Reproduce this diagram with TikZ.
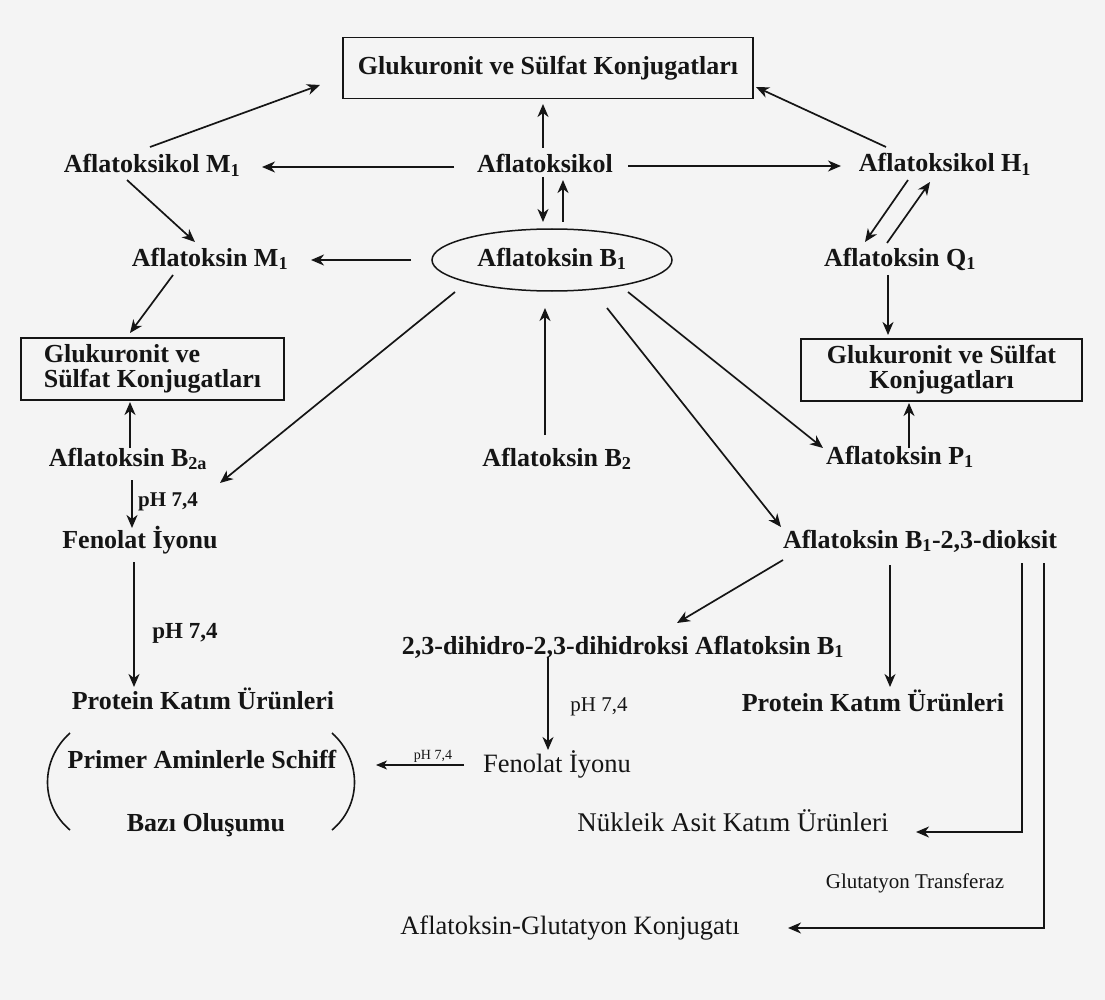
\documentclass[tikz,border=0pt]{standalone}
\usepackage{fontspec}
\setmainfont{Liberation Serif}
\usetikzlibrary{arrows.meta,calc,shapes.geometric}
\definecolor{bg}{HTML}{F4F4F4}
\definecolor{ink}{HTML}{151515}
\begin{document}
\begin{tikzpicture}[x=1pt,y=-1pt,
  lbl/.style={font=\fontsize{26}{30}\selectfont\bfseries, text=ink, inner sep=2pt, text height=17pt, text depth=5pt},
  lblr/.style={font=\fontsize{26.5}{30}\selectfont, text=ink, inner sep=2pt, text height=17pt, text depth=5pt},
  phb/.style={font=\fontsize{21}{24}\selectfont\bfseries, text=ink, inner sep=1pt},
  phr/.style={font=\fontsize{21}{24}\selectfont, text=ink, inner sep=1pt},
  bx/.style={draw=ink, line width=1.5pt, font=\fontsize{26}{25}\selectfont\bfseries, text=ink, inner sep=0pt},
  arr/.style={draw=ink, -{Stealth[length=13pt,width=11pt,inset=4pt]}, line width=1.7pt},
  thin/.style={draw=ink, -{Stealth[length=11pt,width=9pt,inset=3pt]}, line width=1.1pt}
]
\fill[bg] (0,0) rectangle (1105,1000);

% nodes
\node[bx, minimum width=410pt, minimum height=61pt] (gsk) at (548,68) {Glukuronit ve Sülfat Konjugatları};
\node[lbl] (aksM1) at (152,167) {Aflatoksikol M\textsubscript{1}};
\node[lbl] (aks) at (545,167) {Aflatoksikol};
\node[lbl] (aksH1) at (945,166) {Aflatoksikol H\textsubscript{1}};
\node[lbl, ellipse, draw=ink, line width=1.5pt, minimum width=240pt, minimum height=62pt, inner sep=0pt] (B1) at (552,260) {Aflatoksin B\textsubscript{1}};
\node[lbl] (aM1) at (210,260) {Aflatoksin M\textsubscript{1}};
\node[lbl] (aQ1) at (900,260) {Aflatoksin Q\textsubscript{1}};
\node[bx, align=left, minimum width=263pt, minimum height=62pt] (gskL) at (152.5,369) {Glukuronit ve\\Sülfat Konjugatları};
\node[bx, align=center, minimum width=281pt, minimum height=62pt] (gskR) at (941.5,370) {Glukuronit ve Sülfat\\Konjugatları};
\node[lbl] (aB2a) at (128,460) {Aflatoksin B\textsubscript{2a}};
\node[lbl] (aB2) at (557,460) {Aflatoksin B\textsubscript{2}};
\node[lbl] (aP1) at (900,458) {Aflatoksin P\textsubscript{1}};
\node[phb] (ph1) at (168,502) {pH 7,4};
\node[lbl] (fenL) at (140,542) {Fenolat İyonu};
\node[lbl] (diox) at (920,542) {Aflatoksin B\textsubscript{1}-2,3-dioksit};
\node[phb, font=\fontsize{23}{26}\selectfont\bfseries] (ph2) at (185,633) {pH 7,4};
\node[lbl] (dihidro) at (623,648) {2,3-dihidro-2,3-dihidroksi Aflatoksin B\textsubscript{1}};
\node[lbl] (protL) at (203,703) {Protein Katım Ürünleri};
\node[lbl] (protR) at (873,705) {Protein Katım Ürünleri};
\node[phr] (ph3) at (599,707) {pH 7,4};
\node[lbl] (primer) at (202,762) {Primer Aminlerle Schiff};
\node[lbl] (bazi) at (206,825) {Bazı Oluşumu};
\node[lblr] (fenM) at (557,766) {Fenolat İyonu};
\node[phr, font=\fontsize{14}{16}\selectfont] (ph4) at (433,756) {pH 7,4};
\node[lblr, font=\fontsize{27}{30}\selectfont] (nuk) at (733,825) {Nükleik Asit Katım Ürünleri};
\node[phr] (gltr) at (915,883) {Glutatyon Transferaz};
\node[lblr] (agk) at (570,928) {Aflatoksin-Glutatyon Konjugatı};
\coordinate (parR) at (376,765);

% parentheses
\draw[draw=ink, line width=1.6pt] (70,733) .. controls (40,760) and (40,805) .. (70,830);
\draw[draw=ink, line width=1.6pt] (332,733) .. controls (362,760) and (362,805) .. (332,830);

% connectors
\draw[arr] ($(aksM1)+(-2,-20)$) -- ($(gsk)+(-228,17)$);
\draw[arr] ($(aks)+(-2,-19)$) -- ($(gsk)+(-5,36)$);
\draw[arr] ($(aksH1)+(-59,-19)$) -- ($(gsk)+(208,19)$);
\draw[arr, line width=1.4pt] ($(aks)+(-91,0)$) -- ($(aksM1)+(110,0)$);
\draw[arr, line width=1.4pt] ($(aks)+(83,-1)$) -- ($(aksH1)+(-104,0)$);
\draw[arr] ($(aks)+(-2,10)$) -- ($(B1)+(-9,-38)$);
\draw[arr] ($(B1)+(11,-38)$) -- ($(aks)+(18,13)$);
\draw[arr] ($(aksM1)+(-25,13)$) -- ($(aM1)+(-15,-18)$);
\draw[arr] ($(B1)+(-141,0)$) -- ($(aM1)+(101,0)$);
\draw[arr] ($(aksH1)+(-37,14)$) -- ($(aQ1)+(-35,-18)$);
\draw[arr] ($(aQ1)+(-13,-17)$) -- ($(aksH1)+(-15,16)$);
\draw[arr] ($(aQ1)+(-12,15)$) -- ($(gskR)+(-53.5,-35)$);
\draw[arr] ($(aM1)+(-37,15)$) -- ($(gskL)+(-22.5,-36)$);
\draw[arr] ($(aB2a)+(2,-12)$) -- ($(gskL)+(-22.5,33)$);
\draw[arr] ($(B1)+(-97,32)$) -- ($(aB2a)+(92,23)$);
\draw[arr] ($(aB2)+(-12,-25)$) -- ($(B1)+(-7,48)$);
\draw[arr] ($(B1)+(76,32)$) -- ($(aP1)+(-77,-10)$);
\draw[arr] ($(aP1)+(9,-10)$) -- ($(gskR)+(-32.5,33)$);
\draw[arr] ($(B1)+(55,48)$) -- ($(diox)+(-139,-15)$);
\draw[arr] ($(aB2a)+(4,20)$) -- ($(fenL)+(-8,-14)$);
\draw[arr] ($(fenL)+(-6,20)$) -- ($(protL)+(-69,-16)$);
\draw[arr] ($(diox)+(-137,18)$) -- ($(dihidro)+(54,-25)$);
\draw[arr] ($(diox)+(-30,23)$) -- ($(protR)+(17,-18)$);
\draw[arr] ($(dihidro)+(-75,9)$) -- ($(fenM)+(-9,-16)$);
\draw[thin] ($(fenM)+(-93,-1)$) -- (parR);
\draw[arr] ($(diox)+(102,21)$) |- ($(nuk)+(183,7)$);
\draw[arr] ($(diox)+(124,21)$) |- ($(agk)+(218,0)$);
\end{tikzpicture}
\end{document}
